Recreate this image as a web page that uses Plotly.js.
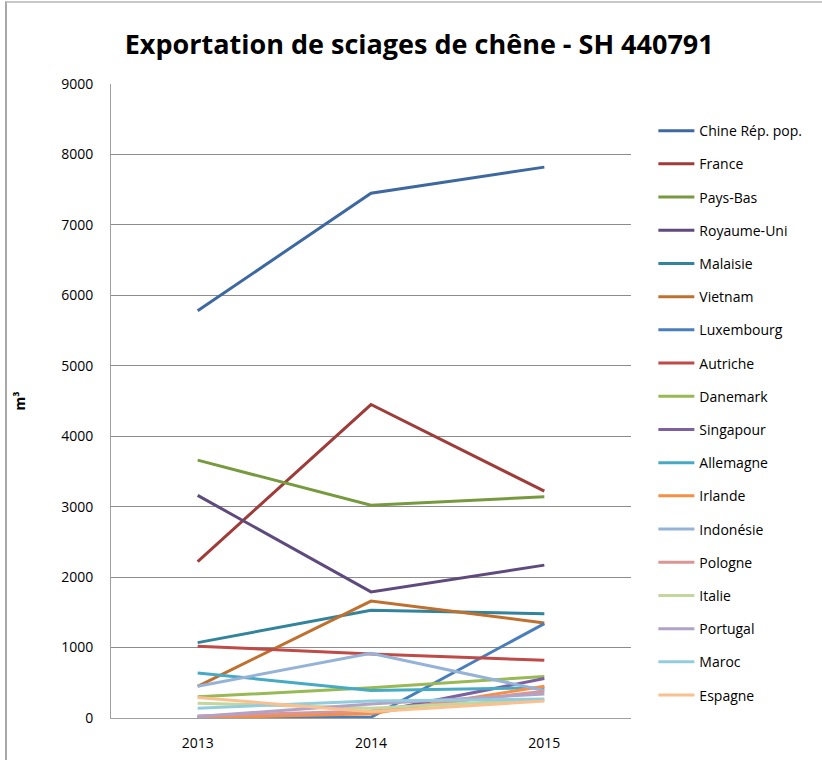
<!DOCTYPE html>
<html><head><meta charset="utf-8">
<script src="https://cdn.plot.ly/plotly-3.0.1.min.js"></script>
<style>
html,body{margin:0;padding:0;background:#fff;overflow:hidden;}
#frame{position:absolute;left:5px;top:1px;width:830px;height:770px;border-left:2px solid #a8a8a8;border-top:2px solid #c8c8c8;}
#chart{position:absolute;left:0;top:0;width:822px;height:760px;}
</style></head>
<body><div id="frame"></div><div id="chart"></div>
<script>
const years = ["2013", "2014", "2015"];
const countries = ["Chine Rép. pop.", "France", "Pays-Bas", "Royaume-Uni", "Malaisie", "Vietnam", "Luxembourg", "Autriche", "Danemark", "Singapour", "Allemagne", "Irlande", "Indonésie", "Pologne", "Italie", "Portugal", "Maroc", "Espagne"];
const chine = [5780, 7450, 7820];
const france = [2220, 4450, 3220];
const paysBas = [3660, 3020, 3140];
const royaumeUni = [3160, 1790, 2170];
const malaisie = [1070, 1530, 1480];
const vietnam = [450, 1660, 1350];
const luxembourg = [10, 10, 1340];
const autriche = [1020, 910, 820];
const danemark = [300, 430, 590];
const singapour = [20, 70, 560];
const allemagne = [640, 390, 430];
const irlande = [0, 60, 450];
const indonesie = [450, 920, 390];
const pologne = [30, 100, 380];
const italie = [210, 140, 260];
const portugal = [20, 200, 340];
const maroc = [140, 240, 270];
const espagne = [290, 90, 240];
const seriesValues = [chine, france, paysBas, royaumeUni, malaisie, vietnam, luxembourg, autriche, danemark, singapour, allemagne, irlande, indonesie, pologne, italie, portugal, maroc, espagne];
const colors = ["#3D68A0", "#9E3C39", "#779A3F", "#5F4A7E", "#31849B", "#C0702E", "#4A7EBB", "#BE4B48", "#98B954", "#7D60A0", "#46AAC5", "#F48F45", "#95B3D7", "#D99694", "#C3D69B", "#B3A2C7", "#93CDDD", "#FAC090"];

const traces = countries.map((c, i) => ({
  type: 'scatter', mode: 'lines', name: c, x: years, y: seriesValues[i],
  line: {color: colors[i], width: 3}, legendgroup: 'g' + i
}));
const layout = {
  width: 822, height: 760,
  margin: {l: 111, r: 191, t: 84, b: 42},
  paper_bgcolor: 'rgba(0,0,0,0)', plot_bgcolor: 'rgba(0,0,0,0)',
  font: {family: 'Open Sans, sans-serif', color: '#000'},
  title: {text: '<b>Exportation de sciages de chêne - SH 440791</b>', font: {size: 27, family: 'Open Sans, sans-serif', color: '#000'}, x: 0.51, xanchor: 'center', y: 0.942, yanchor: 'middle'},
  xaxis: {type: 'category', range: [-0.5, 2.5], showgrid: false, showline: true, linecolor: '#a0a0a0', linewidth: 1,
    ticks: '', tickfont: {size: 14}, zeroline: false, ticklabelstandoff: 12},
  yaxis: {range: [0, 9000], dtick: 1000, showgrid: true, gridcolor: '#8c8c8c', gridwidth: 1, showline: true, linecolor: '#a0a0a0',
    ticks: '', tickfont: {size: 14}, zeroline: false, ticklabelstandoff: 14,
    title: {text: '<b>m³</b>', font: {size: 14}, standoff: 32}},
  showlegend: true,
  legend: {x: 1.043, xanchor: 'left', y: 0.951, yanchor: 'top', font: {size: 14}, tracegroupgap: 12, traceorder: 'grouped', itemwidth: 36}
};
Plotly.newPlot('chart', traces, layout, {staticPlot: true});
</script></body></html>
